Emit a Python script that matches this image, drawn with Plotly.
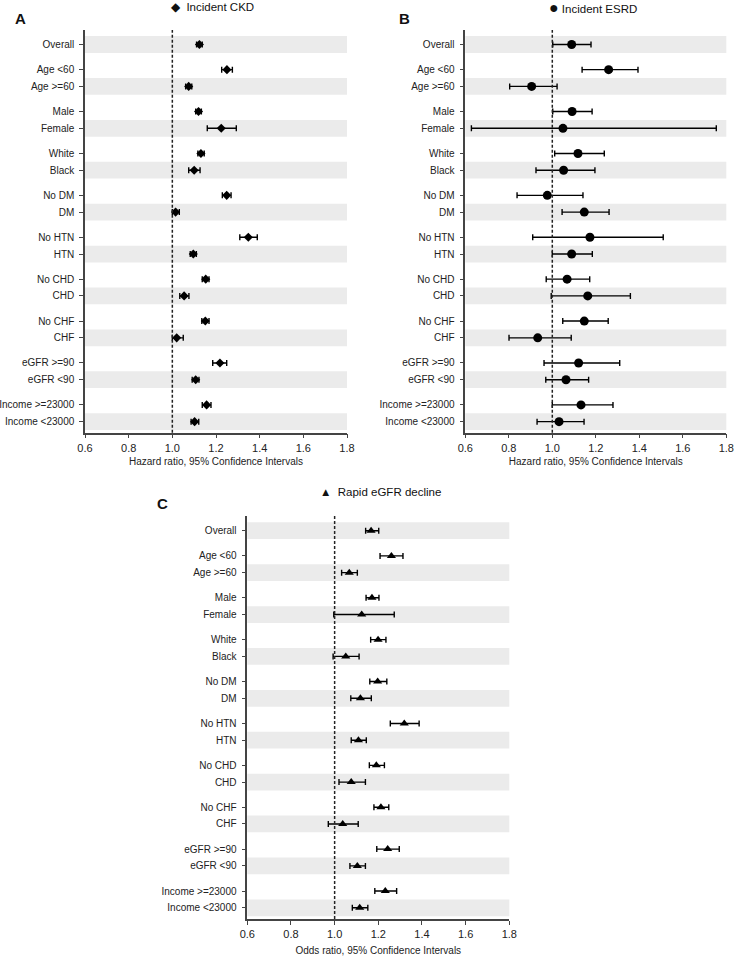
import plotly.graph_objects as go

# ---------------- data ----------------
groups = [
    ["Overall"],
    ["Age <60", "Age >=60"],
    ["Male", "Female"],
    ["White", "Black"],
    ["No DM", "DM"],
    ["No HTN", "HTN"],
    ["No CHD", "CHD"],
    ["No CHF", "CHF"],
    ["eGFR >=90", "eGFR <90"],
    ["Income >=23000", "Income <23000"],
]

ckd_hr = [1.124, 1.250, 1.075, 1.120, 1.224, 1.131, 1.100, 1.249, 1.015, 1.348, 1.096, 1.153, 1.054, 1.151, 1.020, 1.218, 1.107, 1.157, 1.102]
ckd_lo = [1.111, 1.226, 1.061, 1.107, 1.160, 1.117, 1.075, 1.229, 1.000, 1.309, 1.082, 1.137, 1.034, 1.135, 1.000, 1.185, 1.091, 1.137, 1.086]
ckd_hi = [1.137, 1.275, 1.089, 1.133, 1.293, 1.146, 1.127, 1.269, 1.032, 1.389, 1.110, 1.168, 1.076, 1.168, 1.050, 1.249, 1.122, 1.177, 1.121]

esrd_hr = [1.089, 1.259, 0.905, 1.091, 1.049, 1.118, 1.052, 0.977, 1.147, 1.173, 1.089, 1.068, 1.163, 1.147, 0.933, 1.121, 1.063, 1.132, 1.031]
esrd_lo = [1.002, 1.137, 0.804, 1.002, 0.628, 1.011, 0.925, 0.838, 1.045, 0.910, 1.000, 0.972, 0.995, 1.048, 0.801, 0.962, 0.970, 1.000, 0.930]
esrd_hi = [1.178, 1.394, 1.022, 1.183, 1.754, 1.239, 1.196, 1.141, 1.261, 1.510, 1.184, 1.172, 1.359, 1.257, 1.087, 1.310, 1.167, 1.279, 1.146]

egfr_or = [1.167, 1.260, 1.067, 1.171, 1.124, 1.199, 1.051, 1.197, 1.118, 1.319, 1.109, 1.191, 1.076, 1.212, 1.037, 1.243, 1.104, 1.232, 1.115]
egfr_lo = [1.142, 1.208, 1.032, 1.144, 0.996, 1.165, 0.993, 1.161, 1.074, 1.255, 1.076, 1.159, 1.020, 1.180, 0.971, 1.193, 1.070, 1.184, 1.081]
egfr_hi = [1.202, 1.313, 1.104, 1.203, 1.273, 1.235, 1.112, 1.239, 1.168, 1.387, 1.145, 1.228, 1.141, 1.248, 1.108, 1.296, 1.141, 1.284, 1.152]

x_ticks = [0.6, 0.8, 1.0, 1.2, 1.4, 1.6, 1.8]

# ---------------- row layout ----------------
labels, ypos, shaded = [], [], []
cur = 0.0
for gi, g in enumerate(groups):
    if gi > 0:
        cur += 0.5
    for j, lab in enumerate(g):
        labels.append(lab)
        ypos.append(cur)
        if j == len(g) - 1:
            shaded.append(cur)
        cur += 1.0

W, H = 734, 958
FONT = "Liberation Sans, Arial, sans-serif"


def px_dom(a, b, total):
    return [a / total, b / total]


def ydom(top, bottom):
    return [1 - bottom / H, 1 - top / H]


panels = [
    dict(name="Incident CKD", hr=ckd_hr, lo=ckd_lo, hi=ckd_hi, symbol="diamond", size=7,
         xd=px_dom(85, 347, W), yd=ydom(30, 432.7), yr=[23.16, -0.865],
         xtitle="Hazard ratio, 95% Confidence Intervals", standoff=5),
    dict(name="Incident ESRD", hr=esrd_hr, lo=esrd_lo, hi=esrd_hi, symbol="circle", size=9,
         xd=px_dom(465.3, 726.3, W), yd=ydom(30, 432.7), yr=[23.16, -0.865],
         xtitle="Hazard ratio, 95% Confidence Intervals", standoff=5),
    dict(name="Rapid eGFR decline", hr=egfr_or, lo=egfr_lo, hi=egfr_hi, symbol="triangle-up", size=8,
         xd=px_dom(247.3, 509.3, W), yd=ydom(516, 919), yr=[23.17, -0.88],
         xtitle="Odds ratio, 95% Confidence Intervals", standoff=8),
]

fig = go.Figure()
layout = dict(
    width=W, height=H,
    margin=dict(l=0, r=0, t=0, b=0, autoexpand=False),
    paper_bgcolor="white", plot_bgcolor="white",
    showlegend=False,
    font=dict(family=FONT, size=10.5, color="#222"),
)
shapes = []
for i, p in enumerate(panels):
    n = "" if i == 0 else str(i + 1)
    xa, ya = "x" + n, "y" + n
    fig.add_trace(go.Scatter(
        x=p["hr"], y=ypos, xaxis=xa, yaxis=ya, mode="markers", name=p["name"],
        marker=dict(symbol=p["symbol"], size=p["size"], color="black"),
        error_x=dict(type="data", symmetric=False,
                     array=[h - m for h, m in zip(p["hi"], p["hr"])],
                     arrayminus=[m - l for m, l in zip(p["hr"], p["lo"])],
                     color="black", thickness=1.4, width=3),
        cliponaxis=False,
    ))
    layout["xaxis" + n] = dict(
        domain=p["xd"], anchor=ya, range=[0.6, 1.8], tickvals=x_ticks,
        ticktext=[f"{v:.1f}" for v in x_ticks], ticks="outside", ticklen=4,
        tickcolor="#444", showline=True, linecolor="#444", linewidth=1.5,
        showgrid=False, zeroline=False, tickfont=dict(size=11, color="#222"),
        automargin=False,
        title=dict(text=p["xtitle"], font=dict(size=10, color="#222"), standoff=p["standoff"]),
    )
    layout["yaxis" + n] = dict(
        domain=p["yd"], anchor=xa, range=p["yr"], tickvals=ypos, ticktext=labels,
        ticks="outside", ticklen=4, tickcolor="#444", showline=True, linecolor="#444",
        linewidth=1.5, showgrid=False, zeroline=False, tickfont=dict(size=10, color="#222"),
        automargin=False, ticklabelstandoff=3,
    )
    for s in shaded:
        shapes.append(dict(type="rect", xref=xa + " domain", yref=ya, x0=0, x1=1,
                           y0=s - 0.5, y1=s + 0.5, fillcolor="#ebebeb",
                           line=dict(width=0), layer="below"))
    shapes.append(dict(type="line", xref=xa, yref=ya + " domain", x0=1.0, x1=1.0, y0=0, y1=1,
                       line=dict(color="#222", width=1.5, dash="3px,2px")))

layout["shapes"] = shapes

annotations = [
    dict(text="◆  Incident CKD", x=169 / W, y=1 - 7 / H, xref="paper", yref="paper",
         xanchor="left", yanchor="middle", showarrow=False, font=dict(size=11.5, color="#111")),
    dict(text="<span style='font-size:16px'>●</span> Incident ESRD", x=547 / W, y=1 - 7 / H,
         xref="paper", yref="paper",
         xanchor="left", yanchor="middle", showarrow=False, font=dict(size=11.5, color="#111")),
    dict(text="▲  Rapid eGFR decline", x=318 / W, y=1 - 492 / H, xref="paper", yref="paper",
         xanchor="left", yanchor="middle", showarrow=False, font=dict(size=11.5, color="#111")),
    dict(text="<b>A</b>", x=20 / W, y=1 - 19 / H, xref="paper", yref="paper",
         xanchor="center", yanchor="middle", showarrow=False, font=dict(size=15, color="#111")),
    dict(text="<b>B</b>", x=404 / W, y=1 - 19 / H, xref="paper", yref="paper",
         xanchor="center", yanchor="middle", showarrow=False, font=dict(size=15, color="#111")),
    dict(text="<b>C</b>", x=162 / W, y=1 - 503 / H, xref="paper", yref="paper",
         xanchor="center", yanchor="middle", showarrow=False, font=dict(size=15, color="#111")),
]
layout["annotations"] = annotations

fig.update_layout(**layout)
fig.write_html("out.html", config={"displayModeBar": False},
               post_script="document.body.style.margin='0';document.body.style.overflow='hidden';")
